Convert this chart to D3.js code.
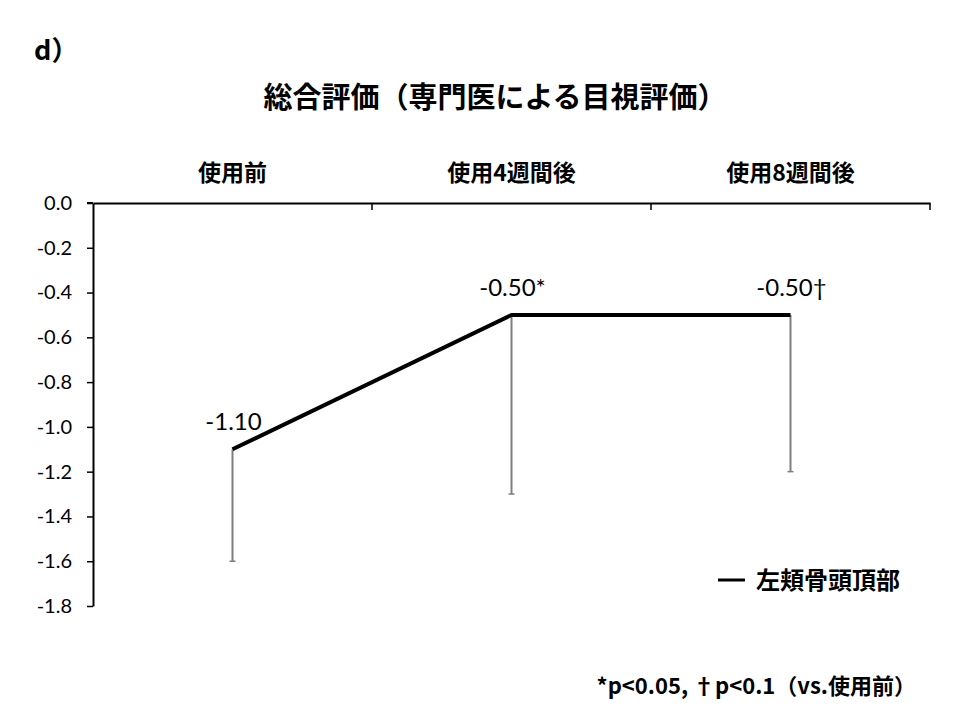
<!DOCTYPE html>
<html><head><meta charset="utf-8">
<script src="https://cdn.jsdelivr.net/npm/d3@7/dist/d3.min.js"></script>
<style>body{margin:0;background:#fff;}</style>
</head><body>
<svg id="c" width="960" height="720"></svg>
<script>
const categories = ["使用前", "使用4週間後", "使用8週間後"];
const means = [-1.10, -0.50, -0.50];
const sds = [0.50, 0.80, 0.70];
const pointLabels = ["-1.10", "-0.50*", "-0.50†"];
const yTicks = [0, -0.2, -0.4, -0.6, -0.8, -1.0, -1.2, -1.4, -1.6, -1.8];
const seriesName = "左頬骨頭頂部";
const titleText = "総合評価（専門医による目視評価）";
const panelLabel = "d）";
const footnote = "*p<0.05, †p<0.1（vs.使用前）";

const svg = d3.select("#c");
const cjk = "'Noto Sans CJK JP','Noto Sans CJK SC',sans-serif";
const num = "Lato,'Noto Sans',sans-serif";

const x = d3.scaleBand().domain(categories).range([93, 930]).padding(0);
const y = d3.scaleLinear().domain([0, -1.8]).range([203, 606]);

// panel label
svg.append("text").attr("x", 34).attr("y", 60).attr("font-family", cjk).attr("font-weight", 700)
  .attr("font-size", 27).attr("fill", "#000").text(panelLabel);
// title
svg.append("text").attr("x", 495).attr("y", 108).attr("text-anchor", "middle").attr("font-family", cjk)
  .attr("font-weight", 700).attr("font-size", 29).attr("fill", "#000").text(titleText);

// Y axis
const yAxis = d3.axisLeft(y).tickValues(yTicks).tickSize(6).tickSizeOuter(0);
const gy = svg.append("g").attr("transform", "translate(93,0)").call(yAxis);
gy.select(".domain").attr("stroke", "#000").attr("stroke-width", 2);
gy.selectAll(".tick line").attr("stroke", "#000").attr("stroke-width", 1.5);
gy.selectAll(".tick text").attr("font-family", num).attr("font-size", 20).attr("fill", "#000").attr("x", -21)
  .text(d => d === 0 ? "0.0" : d3.format(".1f")(d).replace("−", "-"));

// X axis at top (y=0)
const xAxis = d3.axisBottom(x).tickSize(0).tickSizeOuter(0).tickFormat("");
const gx = svg.append("g").attr("transform", `translate(0,${y(0)})`).call(xAxis);
gx.select(".domain").attr("stroke", "#000").attr("stroke-width", 2);
gx.selectAll(".tick").remove();
// category boundary ticks pointing down
const bounds = categories.map(c => x(c) + x.bandwidth());
svg.append("g").selectAll("line").data(bounds).join("line")
  .attr("x1", d => d).attr("x2", d => d).attr("y1", y(0)).attr("y2", y(0) + 7)
  .attr("stroke", "#000").attr("stroke-width", 1.5);
svg.append("line").attr("x1", 87).attr("x2", 93).attr("y1", y(0)).attr("y2", y(0)).attr("stroke", "#000").attr("stroke-width", 2);
// category labels
svg.append("g").selectAll("text").data(categories).join("text")
  .attr("x", d => x(d) + x.bandwidth() / 2).attr("y", 181).attr("text-anchor", "middle")
  .attr("font-family", cjk).attr("font-weight", 700).attr("font-size", 23).attr("fill", "#000")
  .text(d => d);

const cx = i => x(categories[i]) + x.bandwidth() / 2;

// error bars (downward)
const eb = svg.append("g");
means.forEach((m, i) => {
  eb.append("line").attr("x1", cx(i)).attr("x2", cx(i)).attr("y1", y(m)).attr("y2", y(m - sds[i]))
    .attr("stroke", "#7f7f7f").attr("stroke-width", 2);
  eb.append("line").attr("x1", cx(i) - 3).attr("x2", cx(i) + 3).attr("y1", y(m - sds[i])).attr("y2", y(m - sds[i]))
    .attr("stroke", "#7f7f7f").attr("stroke-width", 1.5);
});

// line
const line = d3.line().x((d, i) => cx(i)).y(d => y(d));
svg.append("path").datum(means).attr("d", line).attr("fill", "none").attr("stroke", "#000")
  .attr("stroke-width", 4).attr("stroke-linejoin", "round");

// point labels
svg.append("g").selectAll("text").data(means).join("text")
  .attr("x", (d, i) => cx(i) + 1).attr("y", d => y(d) - 19).attr("text-anchor", "middle")
  .attr("font-family", num).attr("font-size", 24).attr("fill", "#000")
  .text((d, i) => pointLabels[i]);

// legend
svg.append("line").attr("x1", 718).attr("x2", 745).attr("y1", 580).attr("y2", 580).attr("stroke", "#000").attr("stroke-width", 3);
svg.append("text").attr("x", 756).attr("y", 589).attr("font-family", cjk).attr("font-weight", 700)
  .attr("font-size", 24).attr("fill", "#000").text(seriesName);

// footnote
svg.append("text").attr("x", 916).attr("y", 694).attr("text-anchor", "end").attr("font-family", cjk)
  .attr("font-weight", 700).attr("font-size", 22).attr("fill", "#000").text(footnote);
</script>
</body></html>
